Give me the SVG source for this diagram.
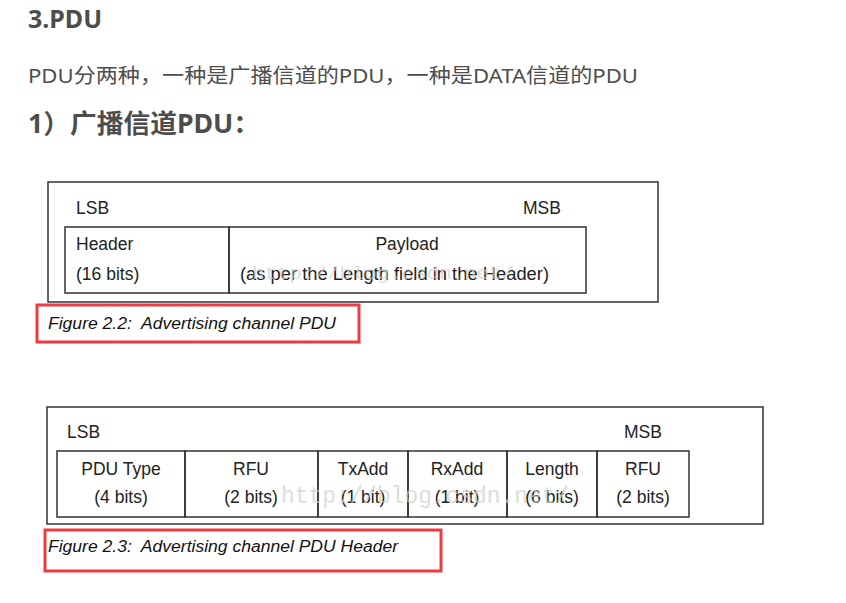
<svg xmlns="http://www.w3.org/2000/svg" width="846" height="603" viewBox="0 0 846 603">
<style>
.h{font-family:"Noto Sans","Noto Sans CJK SC",sans-serif;fill:#4d4d4d}
.t{font-family:"Liberation Sans",Arial,sans-serif;font-size:17.5px;fill:#222}
.c{font-family:"Liberation Sans",Arial,sans-serif;font-size:16px;font-style:italic;fill:#111}
.box{fill:none;stroke:#333;stroke-width:1.5}
.red{fill:none;stroke:#f03a40;stroke-width:3}
.wm{font-family:"Liberation Mono",monospace;fill:#cfcfcf}
.m{text-anchor:middle}
</style>
<rect width="846" height="603" fill="#fff"/>
<g id="headings">
<text class="h" x="28" y="28" font-size="25" font-weight="bold">3.PDU</text>
<text class="h" x="28" y="83" font-size="20.5" textLength="610" lengthAdjust="spacingAndGlyphs">PDU分两种，一种是广播信道的PDU，一种是DATA信道的PDU</text>
<text class="h" x="28" y="133" font-size="26" font-weight="bold" textLength="232" lengthAdjust="spacingAndGlyphs">1）广播信道PDU：</text>
</g>
<g id="fig22">
<rect class="box" x="48" y="182" width="610" height="120"/>
<text class="t" x="76" y="214">LSB</text>
<text class="t" x="523" y="214">MSB</text>
<g id="cell-header">
<rect class="box" x="65" y="227" width="164" height="66"/>
<text class="t" x="76" y="250">Header</text>
<text class="t" x="76" y="280">(16 bits)</text>
</g>
<g id="cell-payload">
<rect class="box" x="229" y="227" width="357" height="66"/>
<text class="t m" x="407" y="250">Payload</text>
<text class="t" x="240" y="280" textLength="309" lengthAdjust="spacingAndGlyphs">(as per the Length field in the Header)</text>
</g>
<text class="wm" x="252" y="279" font-size="19" textLength="262" lengthAdjust="spacingAndGlyphs" opacity="0.7">http://blog.csdn.net/</text>
<rect class="red" x="37" y="305" width="322" height="37"/>
<text class="c" x="48" y="329" textLength="288" lengthAdjust="spacingAndGlyphs" xml:space="preserve">Figure 2.2:  Advertising channel PDU</text>
</g>
<g id="fig23">
<rect class="box" x="47" y="407" width="716" height="117"/>
<text class="t" x="67" y="438">LSB</text>
<text class="t" x="624" y="438">MSB</text>
<g id="cell-pdutype">
<rect class="box" x="57" y="451" width="128" height="66"/>
<text class="t m" x="121" y="475">PDU Type</text>
<text class="t m" x="121" y="503">(4 bits)</text>
</g>
<g id="cell-rfu1">
<rect class="box" x="185" y="451" width="133" height="66"/>
<text class="t m" x="251" y="475">RFU</text>
<text class="t m" x="251" y="503">(2 bits)</text>
</g>
<g id="cell-txadd">
<rect class="box" x="318" y="451" width="90" height="66"/>
<text class="t m" x="363" y="475">TxAdd</text>
<text class="t m" x="363" y="503">(1 bit)</text>
</g>
<g id="cell-rxadd">
<rect class="box" x="408" y="451" width="99" height="66"/>
<text class="t m" x="457" y="475">RxAdd</text>
<text class="t m" x="457" y="503">(1 bit)</text>
</g>
<g id="cell-length">
<rect class="box" x="507" y="451" width="90" height="66"/>
<text class="t m" x="552" y="475">Length</text>
<text class="t m" x="552" y="503">(6 bits)</text>
</g>
<g id="cell-rfu2">
<rect class="box" x="597" y="451" width="92" height="66"/>
<text class="t m" x="643" y="475">RFU</text>
<text class="t m" x="643" y="503">(2 bits)</text>
</g>
<text class="wm" x="281" y="503" font-size="23" textLength="288" lengthAdjust="spacingAndGlyphs" opacity="0.7">http://blog.csdn.net/</text>
<rect class="red" x="45" y="530" width="396" height="41"/>
<text class="c" x="48" y="552" textLength="350" lengthAdjust="spacingAndGlyphs" xml:space="preserve">Figure 2.3:  Advertising channel PDU Header</text>
</g>
</svg>
